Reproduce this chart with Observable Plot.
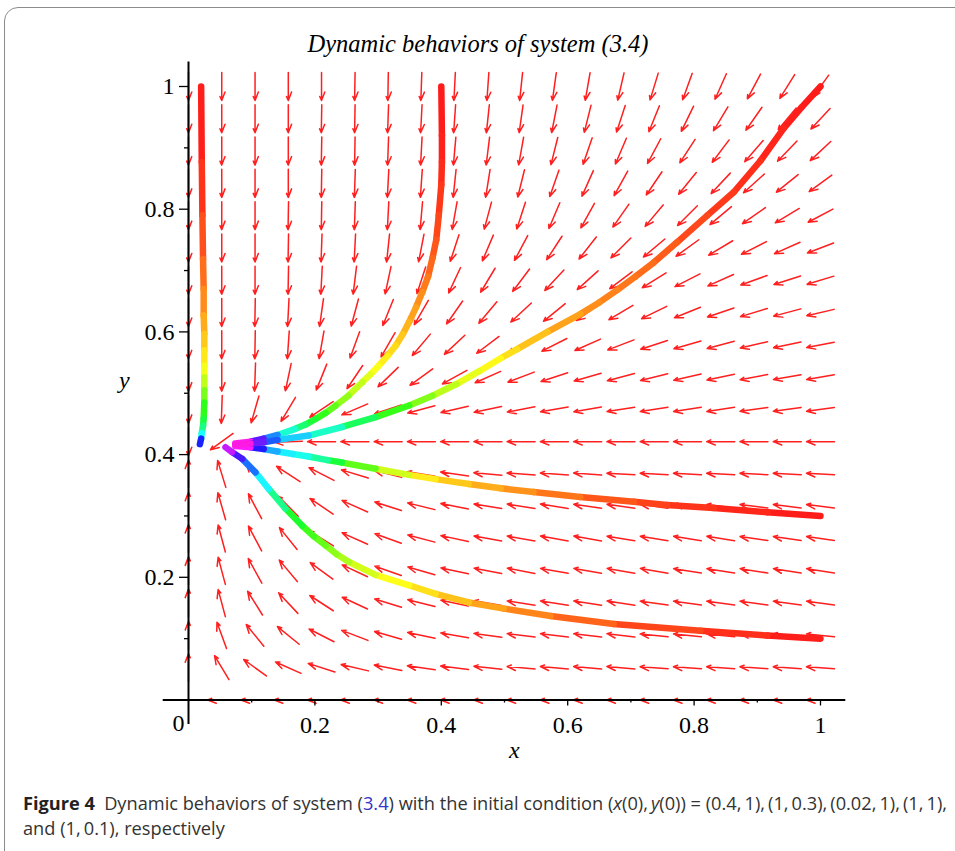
<!DOCTYPE html>
<html>
<head>
<meta charset="utf-8">
<script src="https://cdn.jsdelivr.net/npm/d3@7"></script>
<script src="https://cdn.jsdelivr.net/npm/@observablehq/plot@0.6"></script>
<style>
  html, body { margin: 0; padding: 0; background: #fff; }
  body { width: 955px; height: 851px; overflow: hidden; position: relative; }
  #frame { position: absolute; left: 4px; top: 7px; width: 1100px; height: 1000px;
           border: 1.5px solid #8c8c8c; border-radius: 14px; box-sizing: border-box; }
  #title { position: absolute; left: 0; top: 30px; width: 956px; text-align: center;
           font: italic 24.5px "Liberation Serif", serif; color: #000; }
  #chart { position: absolute; left: 0; top: 0; }
  .axlab { position: absolute; font: italic 24px "Liberation Serif", serif; color: #000; }
  #caption { position: absolute; left: 23px; top: 791px; font-family: "Open Sans", sans-serif;
             font-size: 18px; line-height: 25px; color: #333; white-space: nowrap;
             transform-origin: 0 0; }
  #caption b { color: #222; }
  #caption .ref { color: #3434c8; }
</style>
</head>
<body>
<div id="frame"></div>
<div id="title">Dynamic behaviors of system (3.4)</div>
<div id="chart"></div>
<div class="axlab" style="left:509px; top:737px;">x</div>
<div class="axlab" style="left:119px; top:367px;">y</div>
<div id="caption"><span id="cap1"><b>Figure 4</b>&ensp;Dynamic behaviors of system (<span class="ref">3.4</span>) with the initial condition (<i>x</i>(0),&thinsp;<i>y</i>(0)) = (0.4,&thinsp;1),&thinsp;(1,&thinsp;0.3),&thinsp;(0.02,&thinsp;1),&thinsp;(1,&thinsp;1),</span><br><span>and (1,&thinsp;0.1), respectively</span></div>
<script>
// ---- direction-field grid (20 x 20, as drawn) ----
const gridX = [0, 0.0526, 0.1053, 0.1579, 0.2105, 0.2632, 0.3158, 0.3684, 0.4211, 0.4737,
               0.5263, 0.5789, 0.6316, 0.6842, 0.7368, 0.7895, 0.8421, 0.8947, 0.9474, 1];
const gridY = [0, 0.0526, 0.1053, 0.1579, 0.2105, 0.2632, 0.3158, 0.3684, 0.4211, 0.4737,
               0.5263, 0.5789, 0.6316, 0.6842, 0.7368, 0.7895, 0.8421, 0.8947, 0.9474, 1];
// arrow heading, degrees: 0 = pointing down, 90 = left, 180 = up
// one row per gridY value (bottom row first), one entry per gridX value
const arrowHeading = [
  [null, 90, 90, 90, 90, 90, 90, 90, 90, 90, 90, 90, 90, 90, 90, 90, 90, 90, 90, 90],
  [180, 149, 126, 114, 108, 103, 101, 98, 97, 96, 95, 95, 95, 95, 94, 94, 94, 94, 94, 94],
  [180, 160, 141, 129, 117, 111, 106, 102, 100, 98, 97, 97, 97, 97, 96, 96, 96, 96, 96, 96],
  [180, 165, 148, 137, 123, 115, 107, 104, 102, 100, 99, 99, 99, 99, 98, 98, 98, 98, 98, 98],
  [180, 165, 151, 140, 126, 115, 109, 106, 102, 101, 101, 100, 100, 100, 100, 99, 99, 99, 99, 99],
  [180, 165, 152, 141, 122, 114, 110, 105, 102, 100, 100, 100, 100, 99, 99, 99, 99, 98, 98, 98],
  [180, 164, 152, 135, 124, 114, 108, 104, 101, 99, 99, 99, 98, 98, 98, 98, 97, 97, 97, 97],
  [180, 163, 140, 123, 117, 107, 104, 99, 98, 95, 94, 94, 94, 93, 93, 93, 93, 93, 93, 93],
  [0, 54, 80, 88, 90, 90, 90, 90, 90, 90, 90, 90, 90, 90, 90, 90, 90, 90, 90, 90],
  [0, 2, 16, 31, 56, 67, 72, 75, 77, 78, 79, 80, 80, 81, 81, 81, 81, 82, 82, 82],
  [0, 0, 2, 12, 22, 34, 46, 54, 61, 66, 69, 72, 74, 75, 76, 77, 78, 79, 80, 80],
  [0, 0, 1, 4, 10, 20, 30, 40, 47, 53, 59, 63, 66, 69, 72, 74, 75, 77, 78, 79],
  [0, 0, 1, 3, 8, 15, 22, 30, 35, 40, 47, 51, 55, 59, 64, 68, 71, 73, 75, 77],
  [0, 0, 0, 1, 3, 7, 12, 18, 25, 31, 37, 43, 48, 53, 58, 63, 66, 70, 72, 73],
  [0, 0, 0, 1, 2, 3, 6, 11, 18, 23, 28, 33, 38, 45, 50, 54, 59, 63, 66, 69],
  [0, 0, 0, 1, 1, 2, 3, 5, 10, 15, 18, 23, 29, 35, 40, 45, 50, 55, 59, 62],
  [0, 0, 0, 0, 1, 2, 3, 4, 6, 9, 14, 19, 24, 29, 34, 39, 43, 48, 51, 54],
  [0, 0, 0, 0, 1, 1, 2, 3, 5, 7, 10, 14, 19, 23, 28, 33, 37, 41, 44, 47],
  [0, 0, 0, 0, 1, 1, 2, 3, 4, 6, 8, 11, 14, 18, 22, 26, 31, 35, 40, 43],
  [0, 0, 0, 0, 0, 1, 1, 2, 3, 4, 6, 8, 10, 13, 17, 20, 24, 28, 32, 36]
];

// ---- trajectories: [x, y, colour hue along the orbit] ----
const orbitA_04_1 = [
  [0.4, 1.0, 0], [0.401, 0.92, 1], [0.401, 0.877, 3], [0.4, 0.84, 6], [0.396, 0.79, 10],
  [0.392, 0.75, 14], [0.386, 0.72, 18], [0.379, 0.69, 23], [0.37, 0.665, 28], [0.36, 0.64, 33],
  [0.349, 0.616, 38], [0.339, 0.596, 43], [0.328, 0.578, 48], [0.315, 0.561, 53], [0.301, 0.545, 58],
  [0.288, 0.531, 64], [0.275, 0.518, 70], [0.253, 0.496, 82], [0.233, 0.48, 95], [0.217, 0.468, 108],
  [0.201, 0.458, 120], [0.185, 0.449, 135], [0.169, 0.442, 150], [0.141, 0.432, 185], [0.119, 0.426, 235],
  [0.098, 0.421, 280], [0.074, 0.418, 330]
];
const orbitB_1_03 = [
  [1.0, 0.3, 0], [0.916, 0.306, 2], [0.831, 0.313, 5], [0.757, 0.318, 9], [0.705, 0.323, 12],
  [0.62, 0.331, 20], [0.546, 0.339, 28], [0.494, 0.345, 35], [0.4435, 0.352, 42], [0.391, 0.36, 50],
  [0.349, 0.367, 60], [0.296, 0.377, 85], [0.243, 0.387, 118], [0.22, 0.391, 140], [0.19, 0.397, 170],
  [0.165, 0.401, 180], [0.141, 0.405, 188], [0.119, 0.409, 215], [0.098, 0.412, 270], [0.074, 0.414, 330]
];
const orbitC_002_1 = [
  [0.02, 1.0, 0], [0.021, 0.877, 3], [0.022, 0.79, 10], [0.023, 0.719, 18], [0.024, 0.67, 26],
  [0.024, 0.627, 34], [0.025, 0.597, 42], [0.025, 0.57, 50], [0.025, 0.545, 58], [0.025, 0.526, 68],
  [0.025, 0.505, 85], [0.025, 0.485, 105], [0.024, 0.459, 125], [0.023, 0.447, 135], [0.021, 0.435, 160],
  [0.02, 0.426, 200], [0.018, 0.417, 275]
];
const orbitD_1_1 = [
  [1.0, 1.0, 0], [0.97, 0.966, 1], [0.942, 0.932, 2], [0.905, 0.879, 4], [0.863, 0.828, 7],
  [0.821, 0.79, 10], [0.773, 0.746, 15], [0.736, 0.713, 20], [0.707, 0.69, 23], [0.678, 0.668, 26],
  [0.65, 0.648, 29], [0.62, 0.629, 32], [0.568, 0.6, 40], [0.52, 0.572, 48], [0.494, 0.557, 55],
  [0.46, 0.536, 62], [0.424, 0.515, 70], [0.386, 0.496, 85], [0.349, 0.48, 100], [0.296, 0.461, 125],
  [0.243, 0.445, 150], [0.19, 0.431, 180], [0.141, 0.424, 205], [0.119, 0.42, 240], [0.098, 0.418, 285],
  [0.074, 0.416, 330]
];
const orbitE_1_01 = [
  [1.0, 0.1, 0], [0.916, 0.105, 3], [0.81, 0.113, 8], [0.673, 0.124, 15], [0.573, 0.137, 24],
  [0.499, 0.149, 32], [0.4435, 0.159, 40], [0.391, 0.173, 48], [0.349, 0.187, 56], [0.296, 0.204, 65],
  [0.254, 0.225, 78], [0.234, 0.238, 86], [0.217, 0.252, 95], [0.198, 0.267, 105], [0.18, 0.284, 115],
  [0.1535, 0.312, 135], [0.127, 0.344, 165], [0.106, 0.371, 200], [0.085, 0.393, 235], [0.069, 0.404, 270],
  [0.0585, 0.412, 300]
];

// ---- axes ----
const xMajorTicks = [0.2, 0.4, 0.6, 0.8, 1];
const xMinorTicks = [0.1, 0.3, 0.5, 0.7, 0.9];
const yMajorTicks = [0.2, 0.4, 0.6, 0.8, 1];
const yMinorTicks = [0.1, 0.3, 0.5, 0.7, 0.9];
const originLabel = [0];
const axisExtent = [-0.04, 1.04];

// ---- build tables ----
const field = [];
gridY.forEach((y, j) => gridX.forEach((x, i) => {
  const h = arrowHeading[j][i];
  if (h != null) field.push({x, y, heading: h});
}));
const segments = [];
[orbitA_04_1, orbitB_1_03, orbitC_002_1, orbitD_1_1, orbitE_1_01].forEach(orbit => {
  for (let k = 0; k < orbit.length - 1; k++) {
    const [x1, y1, h1] = orbit[k], [x2, y2, h2] = orbit[k + 1];
    segments.push({x1, y1, x2, y2, hue: (h1 + h2) / 2});
  }
});
const hueColor = h => d3.hsl(h, 1, 0.55).formatHex();

const harpoon = {
  draw(context, l) {
    context.moveTo(0, 0);
    context.lineTo(0, -l);
    context.lineTo(-3.3, -l + 8.5);
    context.moveTo(0, -l);
    context.lineTo(1.8, -l + 4);
  }
};

function build(shape) {
  const serif = "Liberation Serif";
  return Plot.plot({
    width: 955, height: 770,
    marginLeft: 188, marginRight: 135, marginTop: 86, marginBottom: 70.5,
    x: {domain: [0, 1], range: [188, 820]},
    y: {domain: [0, 1], range: [699.5, 86]},
    style: {background: "transparent", overflow: "visible", fontFamily: serif, fontSize: "24px", color: "#000"},
    marks: [
      Plot.vector(field, {x: "x", y: "y", rotate: d => 180 + d.heading, length: 28, anchor: "middle",
        shape, stroke: "#ff1f1f", strokeWidth: 1.5}),
      Plot.link(segments, {x1: "x1", y1: "y1", x2: "x2", y2: "y2",
        stroke: d => hueColor(d.hue), strokeWidth: 6.5, strokeLinecap: "round"}),
      Plot.ruleY(originLabel, {y: d => d, x1: axisExtent[0], x2: axisExtent[1], stroke: "#000", strokeWidth: 2}),
      Plot.ruleX(originLabel, {x: d => d, y1: axisExtent[0], y2: axisExtent[1], stroke: "#000", strokeWidth: 2}),
      Plot.axisX(xMajorTicks, {tickSize: 6, tickPadding: 10, tickFormat: d => String(d),
        fontSize: 24, fontFamily: serif, stroke: "#000", strokeWidth: 1.3, label: null}),
      Plot.axisX(xMinorTicks, {tickSize: 3, tickFormat: () => "", stroke: "#000", strokeWidth: 1.3, label: null}),
      Plot.axisY(yMajorTicks, {tickSize: 9, tickPadding: 5, tickFormat: d => String(d),
        fontSize: 24, fontFamily: serif, stroke: "#000", strokeWidth: 1.3, label: null}),
      Plot.axisY(yMinorTicks, {tickSize: 4, tickFormat: () => "", stroke: "#000", strokeWidth: 1.3, label: null}),
      Plot.text(originLabel, {x: d => d, y: d => d, text: d => String(d), dx: -10, dy: 23,
        fontSize: 24, fontFamily: serif, fill: "#000"})
    ]
  });
}

let svg;
try { svg = build(harpoon); } catch (e) { svg = build("arrow"); }
document.getElementById("chart").appendChild(svg);

// fit caption width to the reference line length
const cap1 = document.getElementById("cap1");
const w = cap1.getBoundingClientRect().width;
if (w > 0) document.getElementById("caption").style.transform = `scaleX(${924 / w})`;
</script>
</body>
</html>
